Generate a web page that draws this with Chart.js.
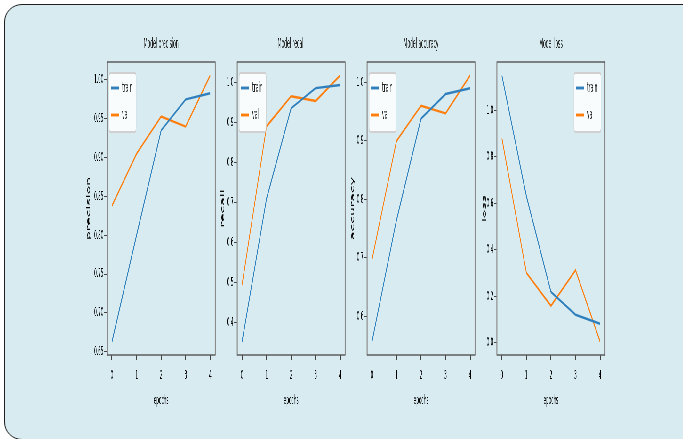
<!DOCTYPE html>
<html>
<head>
<meta charset="utf-8">
<script src="https://cdn.jsdelivr.net/npm/chart.js@4.4.1/dist/chart.umd.min.js"></script>
<style>
  html, body { margin: 0; padding: 0; background: #fff; }
  #page { position: relative; width: 683px; height: 439px; overflow: hidden; }
  #frame { position: absolute; left: 4px; top: 4px; width: 720px; height: 434px;
           border: 1.5px solid #1e1e1e; border-radius: 18px; background: #d7ebf1; }
  #squeeze { position: absolute; left: 0; top: 0; height: 439px; transform-origin: 0 0; }
  #squeeze canvas { position: absolute; }
</style>
</head>
<body>
<div id="page">
  <div id="frame"></div>
  <div id="squeeze"></div>
</div>
<script>
// values
const epochs = [0, 1, 2, 3, 4];

const precisionTrain = [0.663, 0.800, 0.935, 0.975, 0.983];
const precisionVal   = [0.838, 0.905, 0.953, 0.940, 1.006];
const recallTrain    = [0.353, 0.710, 0.935, 0.985, 0.993];
const recallVal      = [0.495, 0.890, 0.965, 0.953, 1.017];
const accuracyTrain  = [0.557, 0.765, 0.938, 0.980, 0.990];
const accuracyVal    = [0.697, 0.900, 0.960, 0.947, 1.012];
const lossTrain      = [1.150, 0.630, 0.218, 0.120, 0.081];
const lossVal        = [0.880, 0.300, 0.158, 0.312, 0.004];

const precisionTicks = [0.65, 0.70, 0.75, 0.80, 0.85, 0.90, 0.95, 1.00];
const recallTicks    = [0.4, 0.5, 0.6, 0.7, 0.8, 0.9, 1.0];
const accuracyTicks  = [0.6, 0.7, 0.8, 0.9, 1.0];
const lossTicks      = [0.0, 0.2, 0.4, 0.6, 0.8, 1.0];

// the original figure was squashed sideways, so draw wide and squeeze
const SQ = 0.32;
const FONT = "'DejaVu Sans', sans-serif";
const TXT = '#000';
const LW = 2.4;
const PLOT_W = 108;

const panels = [
    { title: 'Model precision', yTitle: 'precision', train: precisionTrain, val: precisionVal, ticks: precisionTicks, digits: 2, plotLeft: 107, axisW: 21, legend: 'left' },
    { title: 'Model recall',    yTitle: 'recall',    train: recallTrain,    val: recallVal,    ticks: recallTicks,    digits: 1, plotLeft: 237, axisW: 17, legend: 'left' },
    { title: 'Model accuracy',  yTitle: 'accuracy',  train: accuracyTrain,  val: accuracyVal,  ticks: accuracyTicks,  digits: 1, plotLeft: 367, axisW: 17, legend: 'left' },
    { title: 'Model loss',      yTitle: 'loss',      train: lossTrain,      val: lossVal,      ticks: lossTicks,      digits: 1, plotLeft: 497, axisW: 15, legend: 'right' },
];

const squeeze = document.getElementById('squeeze');
squeeze.style.width = Math.round(683 / SQ) + 'px';
squeeze.style.transform = 'scaleX(' + SQ + ')';

panels.forEach(makePanel);

function padRange(a, b) {
    const lo = Math.min(...a, ...b);
    const hi = Math.max(...a, ...b);
    const m = (hi - lo) * 0.05;
    return [lo - m, hi + m];
}

function makePanel(p) {
    const cv = document.createElement('canvas');
    cv.width = Math.round((p.axisW + PLOT_W + 4) / SQ);
    cv.height = 382;
    cv.style.left = ((p.plotLeft - p.axisW) / SQ) + 'px';
    cv.style.top = '30px';
    squeeze.appendChild(cv);

    const [yMin, yMax] = padRange(p.train, p.val);

    const framePlugin = {
        id: 'frame',
        afterDatasetsDraw(chart) {
            const { ctx, chartArea: a } = chart;
            const v = 1.0 / SQ;
            ctx.save();
            ctx.fillStyle = '#8a8a8a';
            ctx.fillRect(a.left - v / 2, a.top - 0.6, v, a.bottom - a.top + 1.2);
            ctx.fillRect(a.right - v / 2, a.top - 0.6, v, a.bottom - a.top + 1.2);
            ctx.fillStyle = '#555';
            ctx.fillRect(a.left, a.top - 0.7, a.right - a.left, 1.4);
            ctx.fillRect(a.left, a.bottom - 0.7, a.right - a.left, 1.4);
            ctx.restore();
        }
    };

    const titlePlugin = {
        id: 'axTitle',
        afterDraw(chart) {
            const { ctx, chartArea: a } = chart;
            ctx.save();
            ctx.font = '14px ' + FONT;
            ctx.fillStyle = '#222';
            ctx.textAlign = 'center';
            ctx.textBaseline = 'middle';
            ctx.fillText(p.title, (a.left + a.right) / 2, a.top - 18);
            ctx.restore();
        }
    };

    const legendPlugin = {
        id: 'inLegend',
        afterDraw(chart) {
            const { ctx, chartArea: a } = chart;
            const boxW = 27 / SQ, boxH = 59, top = a.top + 11;
            const x0 = p.legend === 'left' ? a.left + 2 / SQ : a.right - 4 / SQ - boxW;
            ctx.save();
            ctx.beginPath();
            ctx.roundRect(x0, top, boxW, boxH, 4);
            ctx.fillStyle = 'rgba(255,255,255,0.85)';
            ctx.fill();
            ctx.lineWidth = 2;
            ctx.strokeStyle = '#d0d0d0';
            ctx.stroke();
            chart.data.datasets.forEach((ds, i) => {
                const y = a.top + 26 + i * 27;
                ctx.beginPath();
                ctx.moveTo(x0 + 2 / SQ, y);
                ctx.lineTo(x0 + 10 / SQ, y);
                ctx.lineWidth = LW + 0.5;
                ctx.strokeStyle = ds.borderColor;
                ctx.stroke();
                ctx.font = '14px ' + FONT;
                ctx.fillStyle = '#222';
                ctx.textBaseline = 'middle';
                ctx.fillText(ds.label, x0 + 13 / SQ, y);
            });
            ctx.restore();
        }
    };

    new Chart(cv, {
        type: 'line',
        data: {
            datasets: [
                {
                    label: 'train',
                    data: epochs.map((e, i) => ({ x: e, y: p.train[i] })),
                    borderColor: '#2f80bd',
                    borderWidth: LW,
                    pointRadius: 0,
                    fill: false,
                    tension: 0,
                },
                {
                    label: 'val',
                    data: epochs.map((e, i) => ({ x: e, y: p.val[i] })),
                    borderColor: '#ff7f0e',
                    borderWidth: LW,
                    pointRadius: 0,
                    fill: false,
                    tension: 0,
                },
            ],
        },
        options: {
            responsive: false,
            animation: false,
            events: [],
            layout: { padding: { top: 32, right: 4 / SQ, left: 0, bottom: 0 } },
            plugins: { legend: { display: false }, tooltip: { enabled: false }, title: { display: false } },
            scales: {
                x: {
                    type: 'linear',
                    min: -0.2,
                    max: 4.2,
                    afterBuildTicks: s => { s.ticks = epochs.map(v => ({ value: v })); },
                    afterFit: s => { s.height = 57; },
                    grid: { display: true, drawOnChartArea: false, drawTicks: true, tickLength: 5, tickWidth: 3, tickColor: '#444' },
                    border: { display: false },
                    ticks: { font: { family: FONT, size: 13 }, color: TXT, padding: 8, autoSkip: false, maxRotation: 0, callback: v => String(v) },
                    title: { display: true, text: 'epochs', font: { family: FONT, size: 13 }, color: TXT, padding: { top: 4, bottom: 4 } },
                },
                y: {
                    type: 'linear',
                    min: yMin,
                    max: yMax,
                    afterBuildTicks: s => { s.ticks = p.ticks.map(v => ({ value: v })); },
                    afterFit: s => { s.width = p.axisW / SQ; },
                    grid: { display: true, drawOnChartArea: false, drawTicks: true, tickLength: 3 / SQ, tickWidth: 1, tickColor: '#444' },
                    border: { display: false },
                    ticks: { font: { family: FONT, size: 13 }, color: TXT, padding: 2, autoSkip: false, callback: v => v.toFixed(p.digits) },
                    title: { display: true, text: p.yTitle, font: { family: FONT, size: 14 }, color: TXT, padding: 0 },
                },
            },
        },
        plugins: [framePlugin, titlePlugin, legendPlugin],
    });
}
</script>
</body>
</html>
